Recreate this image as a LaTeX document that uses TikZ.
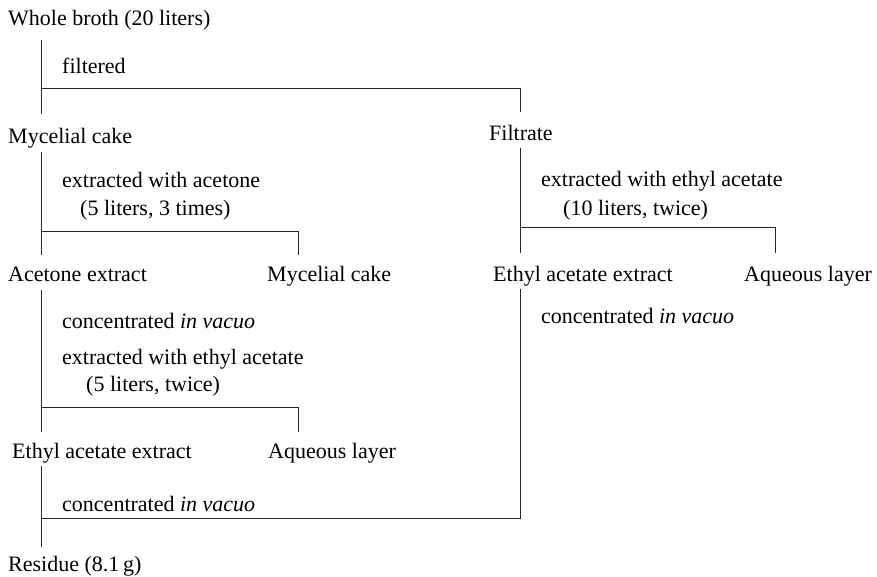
\documentclass[tikz,border=0pt]{standalone}
\usepackage{fontspec}
\setmainfont{Liberation Serif}
\begin{document}
\begin{tikzpicture}[x=1pt,y=-1pt,
  lbl/.style={anchor=west,inner sep=0pt,font=\fontsize{22}{26}\selectfont,text height=15pt,text depth=5pt,yshift=-3pt},
  link/.style={line width=0.9pt,black!85}]
\useasboundingbox[fill=white] (0,0) rectangle (877,577);
% nodes
\node[lbl] (wb) at (8,18) {Whole broth (20 liters)};
\node[lbl] (filtered) at (62,66) {filtered};
\node[lbl] (myc1) at (8,136) {Mycelial cake};
\node[lbl] (filt) at (489,133) {Filtrate};
\node[lbl] (exac) at (62,180) {extracted with acetone};
\node[lbl] (exac2) at (80,207) {(5 liters, 3 times)};
\node[lbl] (exea1) at (541,179) {extracted with ethyl acetate};
\node[lbl] (exea1b) at (563,207) {(10 liters, twice)};
\node[lbl] (ace) at (8,273) {Acetone extract};
\node[lbl] (myc2) at (267,273) {Mycelial cake};
\node[lbl] (eae1) at (493,273) {Ethyl acetate extract};
\node[lbl] (aq1) at (744,273) {Aqueous layer};
\node[lbl] (conc1) at (62,320) {concentrated \textit{in vacuo}};
\node[lbl] (conc2) at (541,315) {concentrated \textit{in vacuo}};
\node[lbl] (exea2) at (62,356) {extracted with ethyl acetate};
\node[lbl] (exea2b) at (86,383) {(5 liters, twice)};
\node[lbl] (eae2) at (12,450) {Ethyl acetate extract};
\node[lbl] (aq2) at (268,450) {Aqueous layer};
\node[lbl] (conc3) at (62,503) {concentrated \textit{in vacuo}};
\node[lbl] (res) at (8,563) {Residue (8.1\,g)};
% junction coordinates
\coordinate (s1) at (41,40);
\coordinate (j1) at (41,88);
\coordinate (e1) at (41,114);
\coordinate (j1r) at (520,88);
\coordinate (e1r) at (520,112);
\coordinate (s2) at (41,152);
\coordinate (j2) at (41,231);
\coordinate (e2) at (41,255);
\coordinate (j2r) at (298,231);
\coordinate (e2r) at (298,255);
\coordinate (s3) at (520,148);
\coordinate (j3) at (520,227);
\coordinate (e3) at (520,253);
\coordinate (j3r) at (775,227);
\coordinate (e3r) at (775,253);
\coordinate (s4) at (41,290);
\coordinate (j4) at (41,407);
\coordinate (e4) at (41,432);
\coordinate (j4r) at (298,407);
\coordinate (e4r) at (298,432);
\coordinate (s5) at (41,466);
\coordinate (j5) at (41,518);
\coordinate (e5) at (41,547);
\coordinate (s6) at (520,289);
\coordinate (j6) at (520,518);
% connectors
\draw[link] (s1) -- (e1);
\draw[link] (j1) -- (j1r) -- (e1r);
\draw[link] (s2) -- (e2);
\draw[link] (j2) -- (j2r) -- (e2r);
\draw[link] (s3) -- (e3);
\draw[link] (j3) -- (j3r) -- (e3r);
\draw[link] (s4) -- (e4);
\draw[link] (j4) -- (j4r) -- (e4r);
\draw[link] (s5) -- (e5);
\draw[link] (j5) -- (j6) -- (s6);
\end{tikzpicture}
\end{document}
